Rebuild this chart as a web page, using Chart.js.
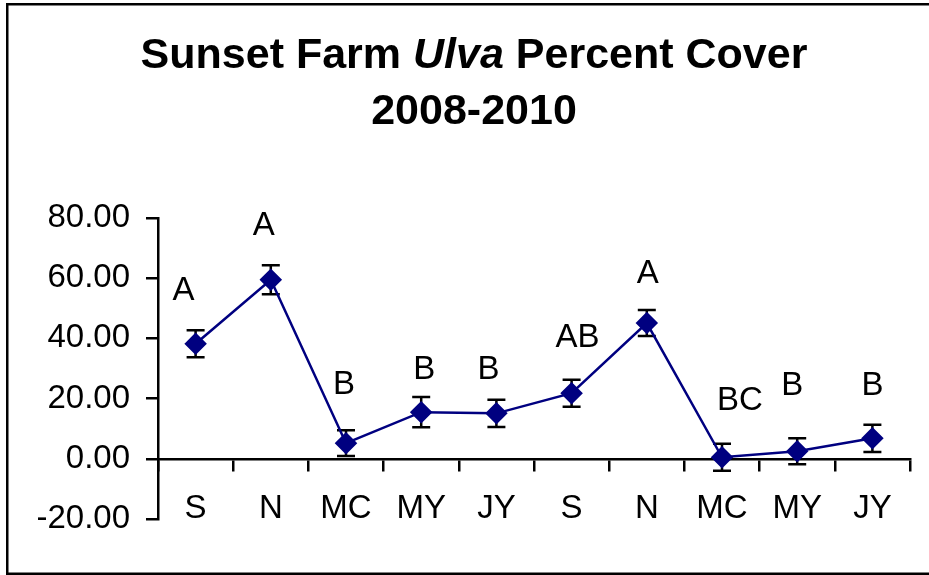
<!DOCTYPE html>
<html>
<head>
<meta charset="utf-8">
<script src="https://cdn.jsdelivr.net/npm/chart.js@4/dist/chart.umd.min.js"></script>
<style>
  html, body { margin: 0; padding: 0; background: #fff; }
  #wrap { width: 929px; height: 575px; }
</style>
</head>
<body>
<div id="wrap"><canvas id="c" width="929" height="575"></canvas></div>
<script>
// ---- data ----
const categories = ['S', 'N', 'MC', 'MY', 'JY', 'S', 'N', 'MC', 'MY', 'JY'];
const coverValues = [38.2, 59.5, 5.2, 15.5, 15.1, 21.8, 45.1, 0.5, 2.5, 6.8];
const coverErrors = [4.5, 4.8, 4.3, 5.0, 4.5, 4.5, 4.3, 4.5, 4.3, 4.5];
const groupLetters = ['A', 'A', 'B', 'B', 'B', 'AB', 'A', 'BC', 'B', 'B'];
const letterHeights = [55.8, 77.5, 24.5, 29.6, 29.6, 40.2, 61.5, 19.3, 24.3, 24.3];
const yTicks = [-20, 0, 20, 40, 60, 80];

// ---- style ----
const FONT = '"Liberation Sans", Arial, sans-serif';
const letterDx = [-12, -7, -2, 3, -8, 6, 1, 18, -5, 0];

const framePlugin = {
  id: 'frame',
  beforeDraw(chart) {
    const ctx = chart.ctx;
    ctx.save();
    ctx.fillStyle = '#fff';
    ctx.fillRect(0, 0, chart.width, chart.height);
    ctx.strokeStyle = '#000';
    ctx.lineWidth = 2.5;
    ctx.strokeRect(7.25, 4.25, 960, 569.5);
    ctx.restore();
  }
};

const titlePlugin = {
  id: 'richTitle',
  afterDraw(chart) {
    const ctx = chart.ctx;
    ctx.save();
    ctx.fillStyle = '#000';
    ctx.textBaseline = 'alphabetic';
    const parts = [
      { t: 'Sunset Farm ', f: 'bold 43px ' + FONT },
      { t: 'Ulva', f: 'italic bold 43px ' + FONT },
      { t: ' Percent Cover', f: 'bold 43px ' + FONT }
    ];
    let total = 0;
    parts.forEach(p => { ctx.font = p.f; p.w = ctx.measureText(p.t).width; total += p.w; });
    let x = 474 - total / 2;
    ctx.textAlign = 'left';
    parts.forEach(p => { ctx.font = p.f; ctx.fillText(p.t, x, 68); x += p.w; });
    ctx.font = 'bold 43px ' + FONT;
    ctx.textAlign = 'center';
    ctx.fillText('2008-2010', 474, 124);
    ctx.restore();
  }
};

const errorBarPlugin = {
  id: 'errorBars',
  beforeDatasetsDraw(chart) {
    const ctx = chart.ctx;
    const xs = chart.scales.x, ys = chart.scales.y;
    ctx.save();
    ctx.strokeStyle = '#000';
    ctx.lineWidth = 2.5;
    coverValues.forEach((v, i) => {
      const x = xs.getPixelForValue(i);
      const yt = ys.getPixelForValue(v + coverErrors[i]);
      const yb = ys.getPixelForValue(v - coverErrors[i]);
      ctx.beginPath();
      ctx.moveTo(x, yt); ctx.lineTo(x, yb);
      ctx.moveTo(x - 9, yt); ctx.lineTo(x + 9, yt);
      ctx.moveTo(x - 9, yb); ctx.lineTo(x + 9, yb);
      ctx.stroke();
    });
    ctx.restore();
  }
};

const letterPlugin = {
  id: 'letters',
  afterDatasetsDraw(chart) {
    const ctx = chart.ctx;
    const xs = chart.scales.x, ys = chart.scales.y;
    ctx.save();
    ctx.fillStyle = '#000';
    ctx.font = '33px ' + FONT;
    ctx.textAlign = 'center';
    ctx.textBaseline = 'middle';
    groupLetters.forEach((t, i) => {
      ctx.fillText(t, xs.getPixelForValue(i) + letterDx[i], ys.getPixelForValue(letterHeights[i]));
    });
    ctx.restore();
  }
};

new Chart(document.getElementById('c'), {
  type: 'line',
  data: {
    labels: categories,
    datasets: [{
      data: coverValues,
      borderColor: '#000080',
      backgroundColor: '#000080',
      borderWidth: 2.5,
      pointStyle: 'rectRot',
      pointRadius: 9.5,
      pointHoverRadius: 9.5,
      pointBackgroundColor: '#000080',
      pointBorderColor: '#000080',
      tension: 0
    }]
  },
  options: {
    responsive: false,
    animation: false,
    events: [],
    layout: { padding: { top: 218, bottom: 56, left: 0, right: 19 } },
    plugins: { legend: { display: false }, title: { display: false }, tooltip: { enabled: false } },
    scales: {
      x: {
        type: 'category',
        position: { y: 0 },
        offset: true,
        grid: { display: true, drawOnChartArea: false, drawTicks: true, tickLength: 11, color: '#000', lineWidth: 2.5, offset: true },
        border: { display: true, color: '#000', width: 2.5 },
        ticks: { color: '#000', font: { size: 33, family: FONT }, padding: 19, maxRotation: 0, autoSkip: false }
      },
      y: {
        min: -20,
        max: 80,
        afterBuildTicks(scale) { scale.ticks = yTicks.map(v => ({ value: v })); },
        afterFit(scale) { scale.width = 158; },
        grid: { display: true, drawOnChartArea: false, drawTicks: true, tickLength: 12, color: '#000', lineWidth: 2.5 },
        border: { display: true, color: '#000', width: 2.5 },
        ticks: { color: '#000', font: { size: 33, family: FONT }, padding: 16, callback: v => Number(v).toFixed(2) }
      }
    }
  },
  plugins: [framePlugin, titlePlugin, errorBarPlugin, letterPlugin]
});
</script>
</body>
</html>
